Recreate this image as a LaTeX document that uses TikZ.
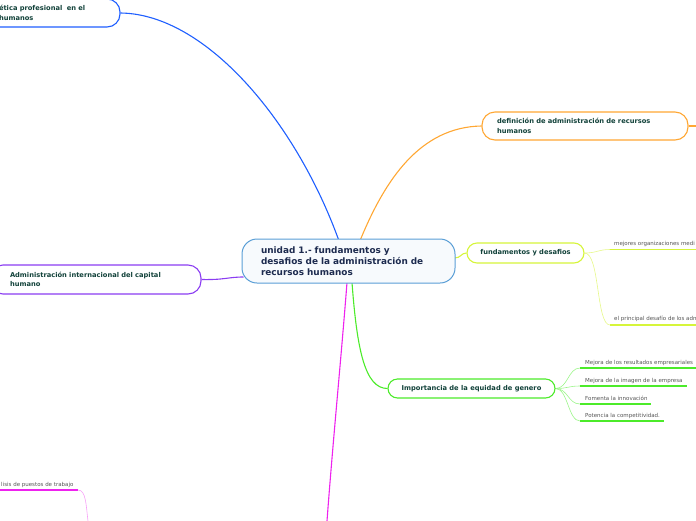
\documentclass[tikz,border=0pt]{standalone}
\usepackage{fontspec}
\setmainfont{DejaVu Sans}
\usetikzlibrary{calc,backgrounds}
\definecolor{cblue}{HTML}{1F5FFF}
\definecolor{corange}{HTML}{FFA733}
\definecolor{cyellow}{HTML}{D6F53A}
\definecolor{cyellowl}{HTML}{E6F88A}
\definecolor{cgreen}{HTML}{4CEB2A}
\definecolor{cgreenl}{HTML}{9CF58A}
\definecolor{cpurple}{HTML}{8B3DF2}
\definecolor{cmag}{HTML}{EE22EE}
\definecolor{cmagl}{HTML}{F7A0F7}
\definecolor{ccenter}{HTML}{5A9ED6}
\definecolor{cfill}{HTML}{F7FAFD}
\definecolor{txtdark}{HTML}{12423A}
\definecolor{txtnavy}{HTML}{1D2B4F}
\definecolor{txtgray}{HTML}{555555}
\begin{document}
\begin{tikzpicture}[x=1pt,y=-1pt,
  topic/.style={draw, line width=1.1pt, rounded corners=13pt, fill=white,
    font=\bfseries\fontsize{6.7}{9.3}\selectfont, text=txtdark, inner ysep=0pt},
  subtxt/.style={font=\fontsize{5.5}{6}\selectfont, text=txtgray, anchor=base west, inner sep=0pt},
  conn/.style={line width=1.1pt},
  thinconn/.style={line width=0.6pt},
  uline/.style={line width=1.6pt}]
\useasboundingbox (0,0) rectangle (696,520);

% central topic
\node[draw=ccenter, fill=cfill, line width=1pt, rounded corners=15pt,
  minimum width=213pt, minimum height=44pt, text width=175pt, inner xsep=19pt,
  align=left, font=\bfseries\fontsize{8.9}{11}\selectfont, text=txtnavy]
  (c) at (348.5,261) {unidad 1.- fundamentos y\\desafios de la administración de\\recursos humanos};

% main topics
\node[topic, draw=cblue, minimum height=28pt, text width=102pt, inner xsep=19pt, align=left]
  (e) at (50,13) {ética profesional\ \ en el\\humanos};
\node[topic, draw=corange, minimum height=28pt, text width=176pt, inner xsep=15pt, align=left]
  (o) at (585,126) {definición de administración de recursos\\humanos};
\node[topic, draw=cyellow, minimum height=20pt, minimum width=117pt, rounded corners=10pt, align=center]
  (f) at (525.5,253) {fundamentos y desafios};
\node[topic, draw=cgreen, minimum height=19pt, minimum width=167pt, rounded corners=9.5pt, align=center]
  (g) at (471.5,388.5) {Importancia de la equidad de genero};
\node[topic, draw=cpurple, minimum height=29pt, text width=171pt, inner xsep=20pt, align=left]
  (p) at (95.5,279.5) {Administración internacional del capital\\humano};

% sub items of fundamentos
\node[subtxt] (f1) at (614,245.5) {mejores organizaciones medi};
\node[subtxt] (f2) at (614,320.5) {el principal desafío de los adm};
\coordinate (f1a) at (610,249.5); \coordinate (f1b) at (696,249.5);
\coordinate (f2a) at (610,325);   \coordinate (f2b) at (696,325);

% sub items of importancia
\node[subtxt] (g1) at (585,364) {Mejora de los resultados empresariales};
\node[subtxt] (g2) at (585,382) {Mejora de la imagen de la empresa};
\node[subtxt] (g3) at (585,400) {Fomenta la innovación};
\node[subtxt] (g4) at (585,417) {Potencia la competitividad.};
\coordinate (g1a) at (580,368); \coordinate (g1b) at (696,368);
\coordinate (g2a) at (580,386); \coordinate (g2b) at (687,386);
\coordinate (g3a) at (580,404); \coordinate (g3b) at (651,404);
\coordinate (g4a) at (580,421); \coordinate (g4b) at (664,421);

% bottom left item
\node[subtxt] (m1) at (1,486) {lisis de puestos de trabajo};
\coordinate (m1a) at (0,490); \coordinate (m1b) at (78,490);
\coordinate (m1c) at (88,521);
\coordinate (mend) at (327,521);
\coordinate (oend) at (697,126);

\begin{pgfonlayer}{background}
  \draw[conn, cblue] (e.east) .. controls (205,14) and (295,120) .. ($(c.north)+(-10,1)$);
  \draw[conn, corange] ($(c.north)+(12,1)$) .. controls (385,180) and (420,127) .. (o.west);
  \draw[conn, corange] (o.east) -- (oend);
  \draw[conn, cyellow] ($(c.east)+(-1,-3)$) .. controls (461,258) and (461,253) .. (f.west);
  \draw[conn, cgreen] ($(c.south)+(3.5,-1)$) .. controls (357,350) and (365,388.5) .. (g.west);
  \draw[conn, cpurple] (p.east) .. controls (225,280) and (228,277) .. ($(c.west)+(2,16)$);
  \draw[conn, cmag] ($(c.south)+(-1.5,-1)$) .. controls (341,360) and (333,440) .. (mend);

  \draw[thinconn, cyellowl] (f.east) .. controls (597,253) and (598,249.5) .. (f1a);
  \draw[thinconn, cyellowl] (f.east) .. controls (600,253) and (596,325) .. (f2a);
  \draw[uline, cyellow] (f1a) -- (f1b);
  \draw[uline, cyellow] (f2a) -- (f2b);

  \foreach \k in {1,2,3,4}{
    \draw[thinconn, cgreenl] (g.east) .. controls (568,388.5) and (568,{\k==1?368:(\k==2?386:(\k==3?404:421))}) .. (g\k a);
    \draw[uline, cgreen] (g\k a) -- (g\k b);
  }

  \draw[uline, cmag] (m1a) -- (m1b);
  \draw[thinconn, cmagl] (m1b) .. controls (86,490) and (86,505) .. (m1c);
\end{pgfonlayer}
\end{tikzpicture}
\end{document}
